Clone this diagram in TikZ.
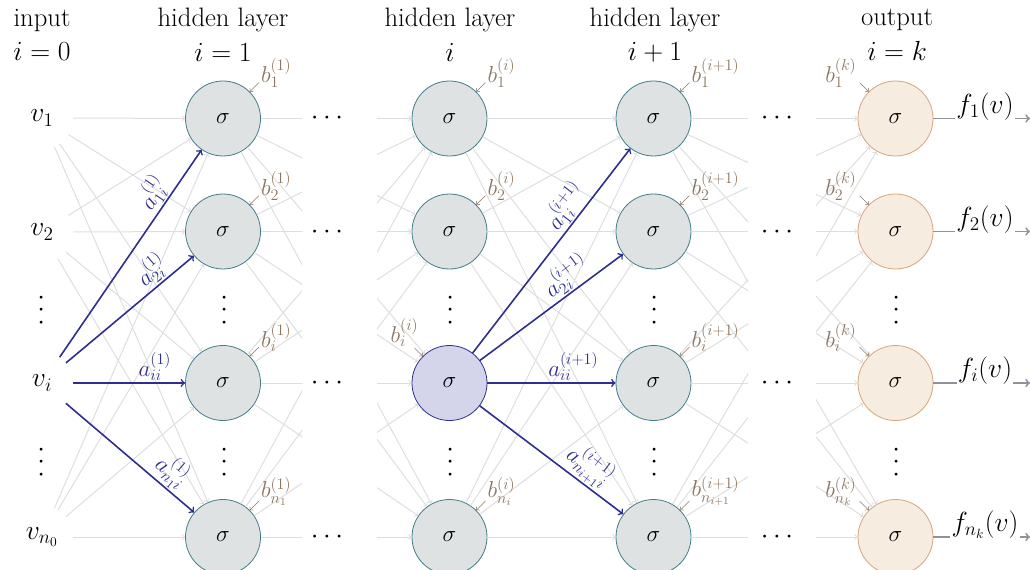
\documentclass[tikz,border=0pt]{standalone}
\usetikzlibrary{calc}

\definecolor{hidfill}{RGB}{222,226,227}
\definecolor{hiddraw}{RGB}{64,124,140}
\definecolor{selfill}{RGB}{212,212,234}
\definecolor{weightcol}{RGB}{46,46,146}
\definecolor{outfill}{RGB}{247,236,224}
\definecolor{outdraw}{RGB}{214,164,124}
\definecolor{biascol}{RGB}{140,118,94}
\definecolor{conncol}{RGB}{222,222,222}
\definecolor{outcol}{RGB}{145,145,155}

\begin{document}
\begin{tikzpicture}[x=0.75pt,y=-0.75pt,
  neuron/.style={circle,draw=hiddraw,fill=hidfill,line width=0.6pt,minimum size=56.25pt,inner sep=0pt,font=\fontsize{17}{17}\selectfont},
  selneuron/.style={neuron,draw=weightcol,fill=selfill},
  outneuron/.style={neuron,draw=outdraw,fill=outfill},
  inp/.style={circle,minimum size=46.5pt,inner sep=0pt,font=\fontsize{20}{20}\selectfont},
  head/.style={align=center,inner sep=0pt,font=\fontsize{20}{26}\selectfont},
  dotsnode/.style={inner sep=0pt,font=\fontsize{20}{20}\selectfont},
  vdotsnode/.style={dotsnode,rotate=90},
  bias/.style={text=biascol,inner sep=0.75pt,font=\fontsize{17}{17}\selectfont},
  biasarr/.style={->,draw=biascol,line width=0.5pt},
  synapse/.style={->,draw=conncol,line width=0.75pt},
  synfade/.style={draw=conncol,line width=0.75pt},
  wgt/.style={->,draw=weightcol,line width=1.2pt},
  wlabel/.style={text=weightcol,sloped,above,inner sep=1pt,font=\fontsize{18}{18}\selectfont},
  outarr/.style={->,draw=outcol,line width=1.3pt},
  flabel/.style={fill=white,inner sep=1pt,anchor=south,font=\fontsize{20}{20}\selectfont}
]
\useasboundingbox (0,0) rectangle (1030,570);

% headers
\node[head] (hin) at (42,35) {input\\$i=0$};
\node[head] (ha) at (223,35) {hidden layer\\$i=1$};
\node[head] (hb) at (450,35) {hidden layer\\$i$};
\node[head] (hc) at (655,35) {hidden layer\\$i+1$};
\node[head] (ho) at (897,35) {output\\$i=k$};

% input layer
\node[inp] (v1) at (42,118) {$v_1$};
\node[inp] (v2) at (42,232) {$v_2$};
\node[inp] (vi) at (42,383) {$v_i$};
\node[inp] (vn) at (42,537) {$v_{n_0}$};

% hidden layer i=1
\node[neuron] (a1) at (223,118.5) {$\sigma$};
\node[neuron] (a2) at (223,231.5) {$\sigma$};
\node[neuron] (ai) at (223,383) {$\sigma$};
\node[neuron] (an) at (223,537) {$\sigma$};

% hidden layer i
\node[neuron] (b1) at (449.5,118.5) {$\sigma$};
\node[neuron] (b2) at (449.5,231.5) {$\sigma$};
\node[selneuron] (bi) at (449.5,383) {$\sigma$};
\node[neuron] (bn) at (449.5,537) {$\sigma$};

% hidden layer i+1
\node[neuron] (c1) at (653.5,118.5) {$\sigma$};
\node[neuron] (c2) at (653.5,231.5) {$\sigma$};
\node[neuron] (ci) at (653.5,383) {$\sigma$};
\node[neuron] (cn) at (653.5,537) {$\sigma$};

% output layer
\node[outneuron] (o1) at (895.5,118.5) {$\sigma$};
\node[outneuron] (o2) at (895.5,231.5) {$\sigma$};
\node[outneuron] (oi) at (895.5,383) {$\sigma$};
\node[outneuron] (on) at (895.5,537) {$\sigma$};

% dots
\foreach \x/\nm in {42/v,225/a,451/b,655/c,897/o}{
  \node[vdotsnode] (\nm dA) at (\x,310) {$\cdots$};
  \node[vdotsnode] (\nm dB) at (\x,462) {$\cdots$};
}
\foreach \y/\nm in {118/1,232/2,383/i,537/n}{
  \node[dotsnode] (dl\nm) at (327,\y) {$\cdots$};
  \node[dotsnode] (dr\nm) at (777,\y) {$\cdots$};
}

% grey connections
\foreach \s in {1,2,n}
  \foreach \t in {1,2,i,n}
    \draw[synapse] (v\s) -- (a\t);
\begin{scope}
\clip (223,0) rectangle (302,570);
\foreach \s in {1,2,i,n}
  \foreach \t in {1,2,i,n}
    \draw[synfade] (a\s) -- (b\t);
\end{scope}
\begin{scope}
\clip (377,0) rectangle (450,570);
\foreach \s in {1,2,i,n}
  \foreach \t in {1,2,i,n}
    \draw[synapse] (a\s) -- (b\t);
\end{scope}
\foreach \s in {1,2,n}
  \foreach \t in {1,2,i,n}
    \draw[synapse] (b\s) -- (c\t);
\begin{scope}
\clip (653,0) rectangle (748,570);
\foreach \s in {1,2,i,n}
  \foreach \t in {1,2,i,n}
    \draw[synfade] (c\s) -- (o\t);
\end{scope}
\begin{scope}
\clip (816,0) rectangle (896,570);
\foreach \s in {1,2,i,n}
  \foreach \t in {1,2,i,n}
    \draw[synapse] (c\s) -- (o\t);
\end{scope}

% weights from v_i
\draw[wgt] (vi) -- (a1) node[wlabel,pos=0.75] {$a^{(1)}_{1i}$};
\draw[wgt] (vi) -- (a2) node[wlabel,pos=0.75] {$a^{(1)}_{2i}$};
\draw[wgt] (vi) -- (ai) node[wlabel,pos=0.73] {$a^{(1)}_{ii}$};
\draw[wgt] (vi) -- (an) node[wlabel,pos=0.74] {$a^{(1)}_{n_1i}$};

% weights from layer i
\draw[wgt] (bi) -- (c1) node[wlabel,pos=0.67] {$a^{(i+1)}_{1i}$};
\draw[wgt] (bi) -- (c2) node[wlabel,pos=0.67] {$a^{(i+1)}_{2i}$};
\draw[wgt] (bi) -- (ci) node[wlabel,pos=0.67] {$a^{(i+1)}_{ii}$};
\draw[wgt] (bi) -- (cn) node[wlabel,pos=0.69] {$a^{(i+1)}_{n_{i+1}i}$};

% biases
\foreach \nm/\tx in {a1/b^{(1)}_1,a2/b^{(1)}_2,ai/b^{(1)}_i,an/b^{(1)}_{n_1},
    b1/b^{(i)}_1,b2/b^{(i)}_2,bn/b^{(i)}_{n_i},
    c1/b^{(i+1)}_1,c2/b^{(i+1)}_2,ci/b^{(i+1)}_i,cn/b^{(i+1)}_{n_{i+1}}}{
  \coordinate (p\nm) at ($(\nm.45)+(9,-9)$);
  \node[bias,anchor=south west] (l\nm) at ($(p\nm)+(1,6)$) {$\tx$};
  \draw[biasarr] (p\nm) -- (\nm.45);
}
\foreach \nm/\tx in {o1/b^{(k)}_1,o2/b^{(k)}_2,oi/b^{(k)}_i,on/b^{(k)}_{n_k}}{
  \coordinate (p\nm) at ($(\nm.135)+(-9,-9)$);
  \node[bias,anchor=south east] (l\nm) at ($(p\nm)+(-2,6)$) {$\tx$};
  \draw[biasarr] (p\nm) -- (\nm.135);
}
\coordinate (pbi) at ($(bi.135)+(-8,-8)$);
\node[bias,anchor=south east] (lbi) at ($(pbi)+(5,0)$) {$b^{(i)}_i$};
\draw[biasarr] (pbi) -- (bi.135);

% outputs
\foreach \nm/\y/\tx in {1/118.5/f_1(v),2/231.5/f_2(v),i/383/f_i(v),n/537/f_{n_k}(v)}{
  \coordinate (e\nm) at (1030,\y);
  \draw[outarr] (o\nm) -- (e\nm);
  \node[flabel] (f\nm) at (985,\y+3) {$\tx$};
}
\end{tikzpicture}
\end{document}
